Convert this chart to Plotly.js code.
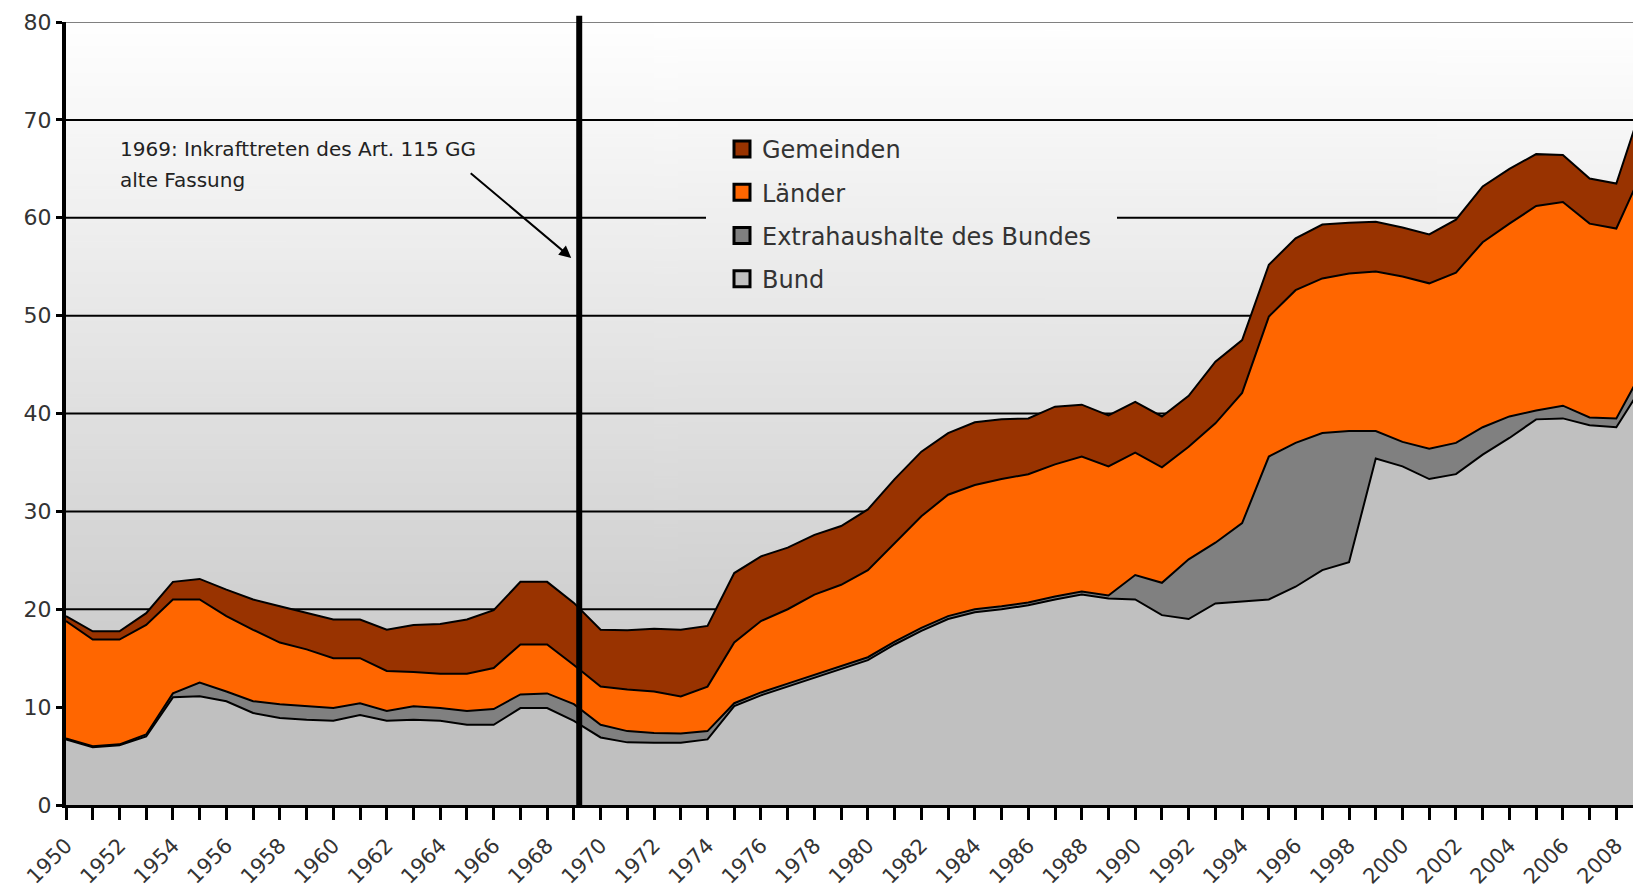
<!DOCTYPE html>
<html>
<head>
<meta charset="utf-8">
<script src="https://cdn.plot.ly/plotly-3.0.1.min.js"></script>
<style>html,body{margin:0;padding:0;background:#fff;}#chart{width:1633px;height:890px;}</style>
</head>
<body>
<div id="chart"></div>
<script>
// Years 1950-2009
const years = [];
for (let y = 1950; y <= 2009; y++) years.push(y);

// Stacked components
const bund = [6.7,5.9,6.1,7.0,11.0,11.1,10.6,9.4,8.9,8.7,
              8.6,9.2,8.6,8.7,8.6,8.2,8.2,9.9,9.9,8.6,
              6.9,6.4,6.35,6.35,6.7,10.1,11.2,12.1,13.0,13.9,
              14.8,16.4,17.8,19.0,19.7,20.0,20.4,21.0,21.5,21.1,
              21.0,19.4,19.0,20.6,20.8,21.0,22.3,24.0,24.8,35.4,
              34.6,33.3,33.8,35.8,37.5,39.4,39.5,38.8,38.6,42.9];
const extra = [0.1,0.1,0.1,0.2,0.4,1.4,1.0,1.2,1.4,1.4,
               1.3,1.2,1.0,1.4,1.3,1.4,1.6,1.4,1.5,1.7,
               1.3,1.15,1.0,0.95,0.85,0.3,0.3,0.3,0.3,0.3,
               0.3,0.3,0.3,0.3,0.3,0.3,0.3,0.3,0.3,0.3,
               2.5,3.3,6.1,6.2,8.0,14.6,14.7,14.0,13.4,2.8,
               2.5,3.1,3.2,2.8,2.2,0.9,1.3,0.8,0.9,1.6];
const laender = [12.0,10.9,10.7,11.2,9.6,8.5,7.7,7.3,6.3,5.8,
                 5.1,4.6,4.1,3.5,3.5,3.8,4.2,5.1,5.0,4.0,
                 3.9,4.25,4.25,3.8,4.55,6.2,7.3,7.6,8.2,8.3,
                 8.9,10.1,11.4,12.4,12.7,13.0,13.1,13.5,13.8,13.2,
                 12.5,11.8,11.5,12.2,13.3,14.3,15.6,15.8,16.1,16.3,
                 16.9,16.9,17.4,18.9,19.7,20.9,20.8,19.8,19.4,20.4];
const gemeinden = [0.5,0.85,0.85,1.2,1.8,2.1,2.7,3.1,3.7,3.7,
                   3.95,3.95,4.2,4.8,5.1,5.55,5.9,6.4,6.4,6.35,
                   5.8,6.05,6.4,6.8,6.2,7.1,6.6,6.3,6.1,6.0,
                   6.2,6.5,6.6,6.3,6.4,6.1,5.7,5.9,5.3,5.2,
                   5.2,5.2,5.2,6.3,5.4,5.3,5.3,5.5,5.2,5.1,
                   5.0,5.0,5.4,5.7,5.6,5.3,4.8,4.6,4.6,6.9];

const seriesNames = ['Bund','Extrahaushalte des Bundes','Länder','Gemeinden'];
const seriesColors = ['#C0C0C0','#808080','#FF6600','#993300'];
const seriesValues = [bund, extra, laender, gemeinden];

const yTicks = [0,10,20,30,40,50,60,70,80];
const annotationLines = ['1969: Inkrafttreten des Art. 115 GG', 'alte Fassung'];
const markerYear = 1969.2;

const FONT = 'DejaVu Sans, Verdana, sans-serif';

const traces = [];
seriesValues.forEach((vals, i) => {
  traces.push({
    type: 'scatter', mode: 'lines', x: years, y: vals,
    stackgroup: 'one', name: seriesNames[i],
    line: {color: '#000000', width: 2},
    fillcolor: seriesColors[i], showlegend: false, hoverinfo: 'x+y+name'
  });
});
// legend entries (square swatches), top to bottom: Gemeinden, Länder, Extra, Bund
for (let i = 3; i >= 0; i--) {
  traces.push({
    type: 'scatter', mode: 'markers', x: [null], y: [null],
    name: seriesNames[i], legendgroup: 'g' + i,
    marker: {symbol: 'square', size: 16, color: seriesColors[i], line: {color: '#000', width: 3}},
    showlegend: true, hoverinfo: 'skip'
  });
}

// gradient background
const cv = document.createElement('canvas');
cv.width = 4; cv.height = 512;
const ctx = cv.getContext('2d');
const grd = ctx.createLinearGradient(0, 0, 0, 512);
grd.addColorStop(0, '#ffffff');
grd.addColorStop(1, '#c0c0c0');
ctx.fillStyle = grd; ctx.fillRect(0, 0, 4, 512);
const bgURL = cv.toDataURL('image/png');

const plotL = 66, plotR = 1633, pxPerYear = 26.73;
const legendL = 706, legendR = 1117;
const gapA = (legendL - plotL) / (plotR - plotL);
const gapB = (legendR - plotL) / (plotR - plotL);

const shapes = [];
yTicks.forEach(v => {
  if (v === 0) return;
  const col = v === 80 ? '#808080' : '#000000';
  if (v === 60) {
    shapes.push({type:'line', xref:'paper', yref:'y', x0:0, x1:gapA, y0:v, y1:v, layer:'below', line:{color:col, width:2}});
    shapes.push({type:'line', xref:'paper', yref:'y', x0:gapB, x1:1, y0:v, y1:v, layer:'below', line:{color:col, width:2}});
  } else {
    shapes.push({type:'line', xref:'paper', yref:'y', x0:0, x1:1, y0:v, y1:v, layer:'below', line:{color:col, width:2}});
  }
});
shapes.push({type:'line', xref:'x', yref:'paper', x0:markerYear, x1:markerYear, y0:0, y1:1.008, layer:'above', line:{color:'#000', width:6}});

const layout = {
  width: 1633, height: 890,
  margin: {l: plotL, r: 0, t: 22, b: 85},
  paper_bgcolor: '#ffffff',
  plot_bgcolor: 'rgba(0,0,0,0)',
  font: {family: FONT, color: '#333333'},
  images: [{source: bgURL, xref:'paper', yref:'paper', x:0, y:1, sizex:1, sizey:1,
            sizing:'stretch', layer:'below', xanchor:'left', yanchor:'top'}],
  xaxis: {
    range: [1950, 1950 + (plotR - plotL) / pxPerYear],
    tick0: 1950, dtick: 2, tickangle: -45,
    ticks: 'outside', ticklen: 12, tickwidth: 3, tickcolor: '#000',
    ticklabelstandoff: 5,
    minor: {dtick: 1, tick0: 1950, ticks: 'outside', ticklen: 12, tickwidth: 3, tickcolor: '#000', showgrid: false},
    showgrid: false, zeroline: false,
    showline: true, linecolor: '#000', linewidth: 3,
    tickfont: {family: FONT, size: 21, color: '#333'},
    fixedrange: true
  },
  yaxis: {
    range: [0, 80], tickvals: yTicks,
    ticks: 'outside', ticklen: 6, tickwidth: 3, tickcolor: '#000',
    showgrid: false, zeroline: false,
    showline: true, linecolor: '#000', linewidth: 4,
    tickfont: {family: FONT, size: 22, color: '#333'},
    fixedrange: true
  },
  showlegend: true,
  legend: {
    x: (722 - plotL) / (plotR - plotL), xanchor: 'left',
    y: 1 - (127 - 22) / 783, yanchor: 'top',
    bgcolor: 'rgba(0,0,0,0)', borderwidth: 0,
    traceorder: 'grouped', tracegroupgap: 9,
    font: {family: FONT, size: 24, color: '#333'}
  },
  shapes: shapes,
  annotations: [
    {xref:'x', yref:'y', x: 1951.95, y: (805.5 - 149) / 9.79, xanchor:'left', yanchor:'middle', align:'left',
     text: annotationLines[0], showarrow:false, font:{family: FONT, size: 20, color:'#222'}},
    {xref:'x', yref:'y', x: 1951.95, y: (805.5 - 180) / 9.79, xanchor:'left', yanchor:'middle', align:'left',
     text: annotationLines[1], showarrow:false, font:{family: FONT, size: 20, color:'#222'}},
    {xref:'x', yref:'y', x: 1968.9, y: 55.9, ax: -102, ay: -86, text: '', showarrow: true,
     arrowhead: 2, arrowsize: 1.2, arrowwidth: 2, arrowcolor: '#000', standoff: 0}
  ]
};

Plotly.newPlot('chart', traces, layout, {displayModeBar: false, staticPlot: true});
</script>
</body>
</html>
